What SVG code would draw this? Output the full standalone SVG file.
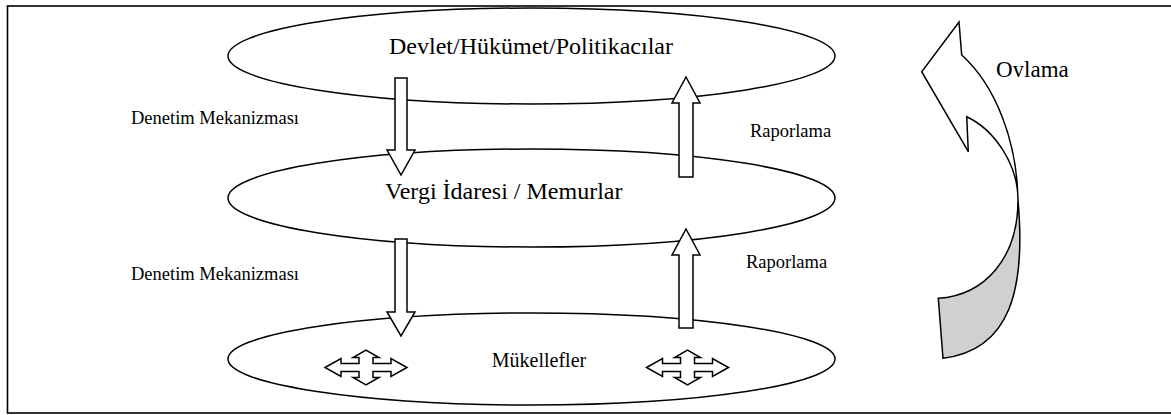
<svg xmlns="http://www.w3.org/2000/svg" width="1171" height="415" viewBox="0 0 1171 415">
  <defs>
    <style>
      .frame { fill: none; stroke: #000; stroke-width: 1.6; }
      .level { fill: #fff; stroke: #000; stroke-width: 1.5; }
      .block { fill: #fff; stroke: #000; stroke-width: 1.5; stroke-linejoin: miter; }
      .label { font-family: "Liberation Serif", "Times New Roman", serif; font-size: 18.5px; fill: #000; }
      .title { font-size: 24px; }
      .center { text-anchor: middle; }
      .vote-lower { fill: #d0d0d0; stroke: #000; stroke-width: 1.5; }
    </style>
    <!-- four-way arrow centred on the origin -->
    <polygon id="quad" class="block" points="-41,0 -25,-9 -25,-4 -7,-4 -7,-10 -13,-10 0,-17.5 13,-10 7,-10 7,-4 25,-4 25,-9 41,0 25,9 25,4 7,4 7,10 13,10 0,17.5 -13,10 -7,10 -7,4 -25,4 -25,9"/>
    <clipPath id="voteClip">
      <rect x="980" y="40" width="120" height="37"/>
    </clipPath>
  </defs>

  <rect class="frame" x="7.5" y="6" width="1200" height="407"/>

  <g id="node-government">
    <ellipse class="level" cx="531.5" cy="56" rx="303.5" ry="48"/>
    <text class="label title center" x="531" y="54">Devlet/Hükümet/Politikacılar</text>
  </g>

  <g id="node-tax-admin">
    <ellipse class="level" cx="531.5" cy="198" rx="303.5" ry="49"/>
    <text class="label title" x="385" y="199">Vergi İdaresi / Memurlar</text>
  </g>

  <g id="node-taxpayers">
    <ellipse class="level" cx="531.5" cy="359" rx="303.5" ry="46"/>
    <text class="label center" x="539" y="367" style="font-size:20px">Mükellefler</text>
    <use href="#quad" x="366" y="367.5"/>
    <use href="#quad" x="687.5" y="367.5"/>
  </g>

  <g id="connectors">
    <!-- control flows downward -->
    <polygon class="block" points="395,78 407,78 407,150 415,150 401,175 387,150 395,150"/>
    <polygon class="block" points="395,239 407,239 407,312 415,312 401,336 387,312 395,312"/>
    <!-- reporting flows upward -->
    <polygon class="block" points="679,177 693,177 693,103 700,103 686,77 672,103 679,103"/>
    <polygon class="block" points="679,328 693,328 693,255 700,255 686,229 672,255 679,255"/>
    <text class="label" x="131" y="124">Denetim Mekanizması</text>
    <text class="label" x="750" y="137">Raporlama</text>
    <text class="label" x="131" y="280">Denetim Mekanizması</text>
    <text class="label" x="746" y="268">Raporlama</text>
  </g>

  <g id="voting-arrow">
    <path class="vote-lower" d="M1018,200 C1026,290 1010,350 943,358.3 L938.3,298.3 C985,295 1018,258 1018,200 Z"/>
    <path class="block" d="M1018,200 C1017,140 995,85 961.7,55 L959,22 L921.7,71.7 L968.3,151.7 L966.7,116.7 C995,130 1018,165 1018,200 Z"/>
    <text class="label" x="996" y="77" clip-path="url(#voteClip)" style="font-size:23px">Oylama</text>
  </g>
</svg>
